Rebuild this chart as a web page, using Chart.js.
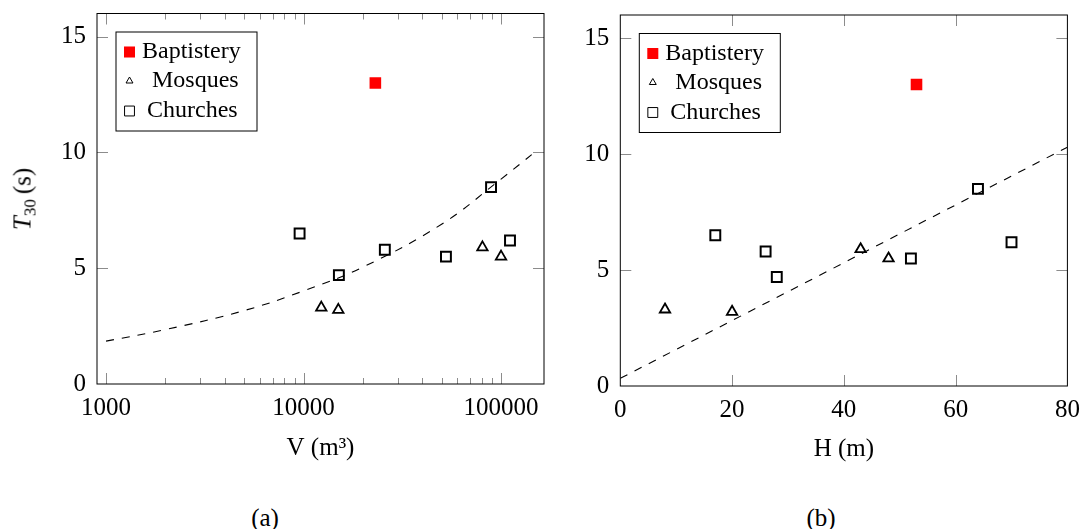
<!DOCTYPE html>
<html>
<head>
<meta charset="utf-8">
<title>T30 vs V and H</title>
<script src="https://cdn.jsdelivr.net/npm/chart.js@4.4.1/dist/chart.umd.min.js"></script>
<style>
  html, body { margin: 0; padding: 0; background: #fff; }
  body { width: 1083px; height: 529px; position: relative; overflow: hidden; font-family: "Liberation Serif", serif; color: #000; }
  .panel { position: absolute; top: 0; height: 480px; }
  #panelA { left: 0; width: 560px; }
  #panelB { left: 540px; width: 543px; }
  .caption { position: absolute; font-size: 25px; line-height: 1; transform: translate(-50%, -50%); white-space: nowrap; }
  #ytitle { left: 24px; top: 199px; transform: translate(-50%, -50%) rotate(-90deg); }
  #ytitle sub { font-size: 17px; vertical-align: -5px; }
</style>
</head>
<body>
<div class="panel" id="panelA"><canvas id="chartA" width="560" height="480"></canvas></div>
<div class="panel" id="panelB"><canvas id="chartB" width="543" height="480"></canvas></div>
<div class="caption" id="ytitle"><i>T</i><sub>30</sub>&#8201;(s)</div>
<div class="caption" style="left:265px; top:517px;">(a)</div>
<div class="caption" style="left:821px; top:517px;">(b)</div>

<script>
// Panel (a): volume of each building (m3)
const volumeBaptistery = [23100];
const volumeMosques = [12300, 15000, 80500, 100000];
const volumeChurches = [9550, 15100, 25800, 52600, 89000, 111000];

// Panel (b): height of each building (m), same order as above
const heightBaptistery = [53];
const heightMosques = [8, 20, 43, 48];
const heightChurches = [17, 28, 26, 52, 64, 70];

// T30 (s) of each building
const t30Baptistery = [13.0];
const t30Mosques = [3.3, 3.2, 5.9, 5.5];
const t30Churches = [6.5, 4.7, 5.8, 5.5, 8.5, 6.2];

// dashed trend lines
const trendVolume = [1000, 2000, 5000, 10000, 20000, 50000, 100000, 150000];
const trendVolumeT30 = [1.85, 2.35, 3.17, 4.02, 5.05, 6.9, 8.85, 10.05];
const trendHeight = [0, 80];
const trendHeightT30 = [0.33, 10.3];

// tick labels
const volumeTicks = [1000, 10000, 100000];
const heightTicks = [0, 20, 40, 60, 80];
const t30Ticks = [0, 5, 10, 15];

const font = { family: '"Liberation Serif", serif', size: 25 };
Chart.defaults.font.family = font.family;

function pts(xs, ys) {
    return xs.map((x, i) => ({ x: x, y: ys[i] }));
}

// inside tick marks + black frame
const frame = {
    id: 'frame',
    beforeDatasetsDraw(chart, args, opts) {
        const { ctx, chartArea: a, scales } = chart;
        const xs = scales.x, ys = scales.y;
        ctx.save();
        ctx.strokeStyle = '#8c8c8c';
        ctx.lineWidth = 1;
        ctx.beginPath();
        const marks = xs.ticks.map(t => [t.value, 11]).concat((opts.minor || []).map(v => [v, 6]));
        marks.forEach(([v, len]) => {
            const px = Math.round(xs.getPixelForValue(v)) + 0.5;
            if (px <= a.left + 1 || px >= a.right - 1) return;
            ctx.moveTo(px, a.bottom); ctx.lineTo(px, a.bottom - len);
            ctx.moveTo(px, a.top); ctx.lineTo(px, a.top + len);
        });
        ys.ticks.forEach(t => {
            const py = Math.round(ys.getPixelForValue(t.value)) + 0.5;
            if (py <= a.top + 1 || py >= a.bottom - 1) return;
            ctx.moveTo(a.left, py); ctx.lineTo(a.left + 11, py);
            ctx.moveTo(a.right, py); ctx.lineTo(a.right - 11, py);
        });
        ctx.stroke();
        ctx.restore();
    },
    afterDatasetsDraw(chart) {
        const { ctx, chartArea: a } = chart;
        ctx.save();
        ctx.strokeStyle = '#000';
        ctx.lineWidth = 1;
        ctx.strokeRect(a.left, a.top, a.right - a.left, a.bottom - a.top);
        ctx.restore();
    }
};

// framed legend in the upper left of the plot
const boxLegend = {
    id: 'boxLegend',
    afterDraw(chart, args, opts) {
        const { ctx, chartArea: a } = chart;
        const x0 = a.left + 19, y0 = a.top + 18.5;
        ctx.save();
        ctx.fillStyle = '#fff';
        ctx.fillRect(x0, y0, 141, 99);
        ctx.strokeStyle = '#000';
        ctx.lineWidth = 1;
        ctx.strokeRect(x0, y0, 141, 99);
        ctx.font = '24px "Liberation Serif", serif';
        ctx.textBaseline = 'middle';
        opts.items.forEach((it, i) => {
            const ds = chart.data.datasets[i];
            const cy = y0 + it.row;
            ctx.fillStyle = ds.backgroundColor;
            ctx.strokeStyle = ds.borderColor;
            ctx.lineWidth = it.borderWidth;
            Chart.helpers.drawPoint(ctx, { pointStyle: ds.pointStyle, radius: it.radius, borderWidth: it.borderWidth, rotation: 0 }, x0 + 13.5, cy);
            ctx.fillStyle = '#000';
            ctx.fillText(ds.label, x0 + it.textX, cy);
        });
        ctx.restore();
    }
};

const legendItems = [
    { row: 20, radius: 7.8, borderWidth: 0, textX: 26 },
    { row: 49, radius: 4, borderWidth: 1, textX: 36 },
    { row: 79, radius: 7, borderWidth: 1, textX: 31 }
];

function makeDatasets(bx, mx, cx, tx, ty, curved) {
    return [{
        label: 'Baptistery',
        data: pts(bx, t30Baptistery),
        pointStyle: 'rect',
        pointRadius: 8.2,
        borderWidth: 0,
        backgroundColor: '#ff0000',
        borderColor: '#ff0000'
    }, {
        label: 'Mosques',
        data: pts(mx, t30Mosques),
        pointStyle: 'triangle',
        pointRadius: 6,
        borderWidth: 1.8,
        backgroundColor: 'rgba(0,0,0,0)',
        borderColor: '#000'
    }, {
        label: 'Churches',
        data: pts(cx, t30Churches),
        pointStyle: 'rect',
        pointRadius: 7,
        borderWidth: 2,
        backgroundColor: 'rgba(0,0,0,0)',
        borderColor: '#000'
    }, {
        label: 'trend',
        data: pts(tx, ty),
        showLine: true,
        pointRadius: 0,
        borderWidth: 1.1,
        borderDash: [8, 8],
        borderColor: '#000',
        backgroundColor: 'rgba(0,0,0,0)',
        tension: curved ? 0.4 : 0
    }];
}

function makeChart(id, cfg) {
    const yScale = {
        min: 0, max: 16,
        afterBuildTicks: s => { s.ticks = t30Ticks.map(v => ({ value: v })); },
        afterFit: s => { s.width = cfg.yWidth; s.paddingTop = 0; s.paddingBottom = 0; },
        ticks: { font: font, color: '#000', padding: 11, autoSkip: false },
        grid: { display: false, drawTicks: false },
        border: { display: false }
    };
    const xScale = Object.assign({
        afterBuildTicks: s => { s.ticks = cfg.xTicks.map(v => ({ value: v })); },
        afterFit: s => { s.height = cfg.xHeight; s.paddingLeft = 0; s.paddingRight = 0; },
        ticks: { font: font, color: '#000', padding: 9, autoSkip: false, maxRotation: 0, callback: v => String(v) },
        grid: { display: false, drawTicks: false },
        border: { display: false },
        title: { display: true, text: cfg.xTitle, font: font, color: '#000', padding: { top: 0, bottom: cfg.titlePad } }
    }, cfg.x);

    return new Chart(document.getElementById(id), {
        type: 'scatter',
        data: { datasets: cfg.datasets },
        options: {
            responsive: false,
            animation: false,
            layout: { padding: cfg.padding },
            plugins: {
                legend: { display: false },
                tooltip: { enabled: false },
                frame: { minor: cfg.minor },
                boxLegend: { items: legendItems }
            },
            scales: { x: xScale, y: yScale }
        },
        plugins: [frame, boxLegend]
    });
}

// minor ticks of the log axis
const volumeMinor = [];
volumeTicks.forEach(d => {
    for (let k = 2; k <= 9; k++) volumeMinor.push(k * d);
});

makeChart('chartA', {
    datasets: makeDatasets(volumeBaptistery, volumeMosques, volumeChurches, trendVolume, trendVolumeT30, true),
    x: { type: 'logarithmic', min: 900, max: 165000 },
    xTicks: volumeTicks,
    minor: volumeMinor,
    xTitle: 'V (m³)',
    titlePad: 17,
    yWidth: 97,
    xHeight: 96,
    padding: { left: 0, top: 13.5, right: 16, bottom: 0 }
});

makeChart('chartB', {
    datasets: makeDatasets(heightBaptistery, heightMosques, heightChurches, trendHeight, trendHeightT30, false),
    x: { type: 'linear', min: 0, max: 80 },
    xTicks: heightTicks,
    minor: [],
    xTitle: 'H (m)',
    titlePad: 16,
    yWidth: 80.3,
    xHeight: 94,
    padding: { left: 0, top: 15, right: 15.6, bottom: 0 }
});
</script>
</body>
</html>
